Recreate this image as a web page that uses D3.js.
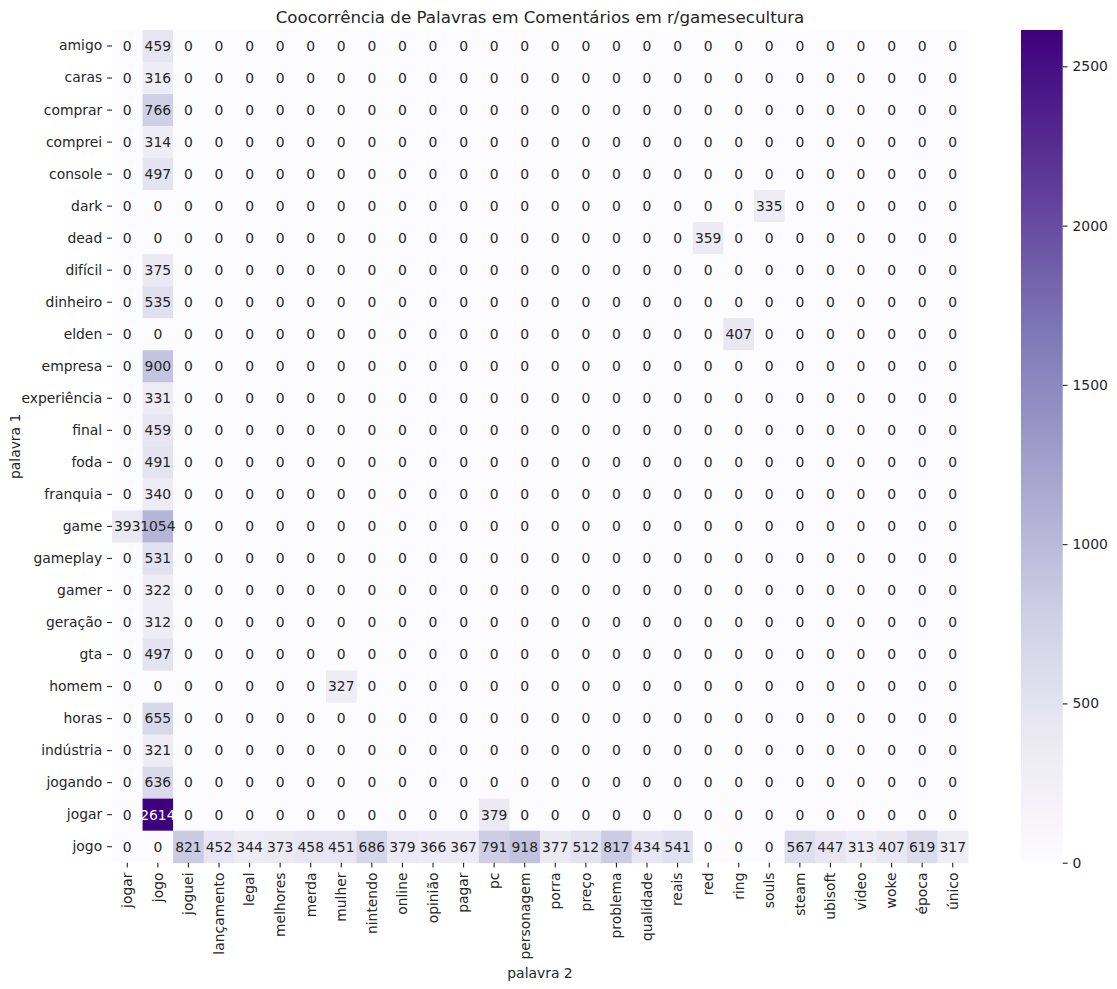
<!DOCTYPE html>
<html>
<head>
<meta charset="utf-8">
<script src="https://cdn.jsdelivr.net/npm/d3@7"></script>
<style>
  body { margin: 0; background: #fff; }
  svg text { font-family: "DejaVu Sans", sans-serif; fill: #262626; }
</style>
</head>
<body>
<div id="chart"></div>
<script>
// palavra 1 (rows) and palavra 2 (columns)
const rows = ["amigo", "caras", "comprar", "comprei", "console", "dark", "dead", "difícil", "dinheiro", "elden",
  "empresa", "experiência", "final", "foda", "franquia", "game", "gameplay", "gamer", "geração", "gta",
  "homem", "horas", "indústria", "jogando", "jogar", "jogo"]
const cols = ["jogar", "jogo", "joguei", "lançamento", "legal", "melhores", "merda", "mulher", "nintendo", "online",
  "opinião", "pagar", "pc", "personagem", "porra", "preço", "problema", "qualidade", "reais", "red",
  "ring", "souls", "steam", "ubisoft", "vídeo", "woke", "época", "único"]

// counts in the "jogo" column, one per row
const jogoColumn = [459, 316, 766, 314, 497, 0, 0, 375, 535, 0,
  900, 331, 459, 491, 340, 1054, 531, 322, 312, 497,
  0, 655, 321, 636, 2614, 0]
// counts in the "jogo" row, one per column
const jogoRow = [0, 0, 821, 452, 344, 373, 458, 451, 686, 379,
  366, 367, 791, 918, 377, 512, 817, 434, 541, 0,
  0, 0, 567, 447, 313, 407, 619, 317]
// remaining non-zero pairs
const otherPairs = [
  ["game", "jogar", 393],
  ["dark", "souls", 335],
  ["dead", "red", 359],
  ["elden", "ring", 407],
  ["homem", "mulher", 327],
  ["jogar", "pc", 379]
]
const cbTicks = [0, 500, 1000, 1500, 2000, 2500]

// build the full matrix
const matrix = rows.map(() => cols.map(() => 0))
rows.forEach((r, i) => { matrix[i][cols.indexOf("jogo")] = jogoColumn[i] })
cols.forEach((c, j) => { matrix[rows.indexOf("jogo")][j] = jogoRow[j] })
otherPairs.forEach(([r, c, v]) => { matrix[rows.indexOf(r)][cols.indexOf(c)] = v })

const cells = []
matrix.forEach((row, i) => row.forEach((v, j) => cells.push({ r: rows[i], c: cols[j], v: v })))

const W = 1117, H = 989
const mLeft = 112, mRight = 968, mTop = 30, mBottom = 862.7
const fs = 13.9

const svg = d3.select("#chart").append("svg")
  .attr("width", W)
  .attr("height", H)

const vmax = d3.max(cells, d => d.v)

const x = d3.scaleBand().domain(cols).range([mLeft, mRight])
const y = d3.scaleBand().domain(rows).range([mTop, mBottom])
const color = d3.scaleSequential(d3.interpolatePurples).domain([0, vmax])

// cells
svg.append("g")
  .selectAll("rect")
  .data(cells)
  .enter()
  .append("rect")
  .attr("x", d => x(d.c))
  .attr("y", d => y(d.r))
  .attr("width", x.bandwidth() + 0.5)
  .attr("height", y.bandwidth() + 0.5)
  .attr("fill", d => color(d.v))

// annotations, white on dark cells like seaborn
function lum(c) {
  const rgb = d3.rgb(c)
  const f = v => { v /= 255; return v <= 0.03928 ? v / 12.92 : Math.pow((v + 0.055) / 1.055, 2.4) }
  return 0.2126 * f(rgb.r) + 0.7152 * f(rgb.g) + 0.0722 * f(rgb.b)
}
svg.append("g")
  .selectAll("text")
  .data(cells)
  .enter()
  .append("text")
  .attr("x", d => x(d.c) + x.bandwidth() / 2)
  .attr("y", d => y(d.r) + y.bandwidth() / 2)
  .attr("dy", "0.35em")
  .attr("text-anchor", "middle")
  .style("font-size", fs + "px")
  .style("fill", d => lum(color(d.v)) > 0.408 ? "#262626" : "#ffffff")
  .text(d => d3.format("d")(d.v))

// axes
const yAxis = svg.append("g")
  .attr("transform", `translate(${mLeft},0)`)
  .call(d3.axisLeft(y).tickSize(4.9).tickPadding(4.9))
yAxis.select(".domain").remove()
yAxis.selectAll("text").style("font-size", fs + "px").attr("fill", "#262626")
yAxis.selectAll("line").attr("stroke", "#262626").attr("stroke-width", 1.1)

const xAxis = svg.append("g")
  .attr("transform", `translate(0,${mBottom})`)
  .call(d3.axisBottom(x).tickSize(4.9).tickPadding(4.9))
xAxis.select(".domain").remove()
xAxis.selectAll("line").attr("stroke", "#262626").attr("stroke-width", 1.1)
xAxis.selectAll("text")
  .style("font-size", fs + "px")
  .attr("fill", "#262626")
  .attr("transform", "rotate(-90)")
  .attr("text-anchor", "end")
  .attr("x", -9.8)
  .attr("y", 0)
  .attr("dy", "0.35em")

// title and axis labels
svg.append("text")
  .attr("x", (mLeft + mRight) / 2)
  .attr("y", 23)
  .attr("text-anchor", "middle")
  .style("font-size", "16.7px")
  .text("Coocorrência de Palavras em Comentários em r/gamesecultura")

svg.append("text")
  .attr("x", (mLeft + mRight) / 2)
  .attr("y", 978)
  .attr("text-anchor", "middle")
  .style("font-size", fs + "px")
  .text("palavra 2")

svg.append("text")
  .attr("transform", `translate(20,${(mTop + mBottom) / 2}) rotate(-90)`)
  .attr("text-anchor", "middle")
  .style("font-size", fs + "px")
  .text("palavra 1")

// colorbar
const cbLeft = 1021, cbRight = 1062.7
const cbScale = d3.scaleLinear().domain([0, vmax]).range([mBottom, mTop])
const defs = svg.append("defs")
const grad = defs.append("linearGradient")
  .attr("id", "cbgrad")
  .attr("x1", 0).attr("y1", 1).attr("x2", 0).attr("y2", 0)
d3.range(0, 1.0001, 0.05).forEach(t => {
  grad.append("stop").attr("offset", t).attr("stop-color", color(t * vmax))
})
svg.append("rect")
  .attr("x", cbLeft)
  .attr("y", mTop)
  .attr("width", cbRight - cbLeft)
  .attr("height", mBottom - mTop)
  .attr("fill", "url(#cbgrad)")

const cbAxis = svg.append("g")
  .attr("transform", `translate(${cbRight},0)`)
  .call(d3.axisRight(cbScale).tickValues(cbTicks).tickFormat(d3.format("d")).tickSize(4.9).tickPadding(4.9))
cbAxis.select(".domain").remove()
cbAxis.selectAll("text").style("font-size", fs + "px").attr("fill", "#262626")
cbAxis.selectAll("line").attr("stroke", "#262626").attr("stroke-width", 1.1)
</script>
</body>
</html>
